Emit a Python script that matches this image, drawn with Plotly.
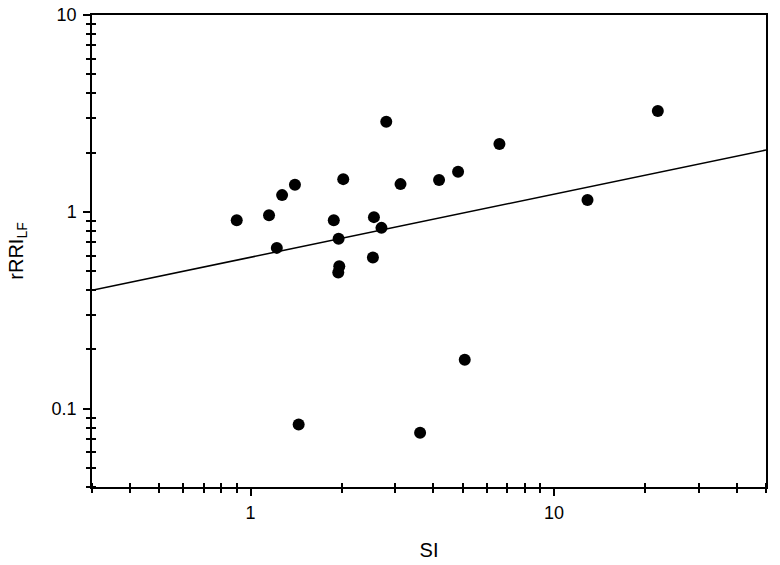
import numpy as np
import plotly.graph_objects as go

# Data
si = [0.90, 1.15, 1.22, 1.27, 1.40, 2.02, 1.88, 1.95, 1.96, 1.945,
      2.55, 2.70, 2.53, 2.80, 3.12, 4.18, 4.83, 6.61, 12.9, 22.0,
      1.44, 3.62, 5.08]
rrri_lf = [0.907, 0.962, 0.656, 1.216, 1.372, 1.466, 0.907, 0.729, 0.529, 0.492,
           0.940, 0.829, 0.586, 2.87, 1.383, 1.45, 1.598, 2.21, 1.147, 3.25,
           0.0832, 0.0755, 0.177]

# Power-law regression line: y = a * x^b
fit_a = 0.588
fit_b = 0.3205
fit_x = [0.3, 50]
fit_y = [fit_a * xv ** fit_b for xv in fit_x]

x_range = [0.3, 50]
y_range = [0.04, 10]
x_major = [1, 10]
x_major_text = ["1", "10"]
y_major = [0.1, 1, 10]
y_major_text = ["0.1", "1", "10"]
x_minor = [0.3, 0.4, 0.5, 0.6, 0.7, 0.8, 0.9, 2, 3, 4, 5, 6, 7, 8, 9, 20, 30, 40, 50]
y_minor = [0.04, 0.05, 0.06, 0.07, 0.08, 0.09, 0.2, 0.3, 0.4, 0.5, 0.6, 0.7, 0.8, 0.9,
           2, 3, 4, 5, 6, 7, 8, 9]

FONT = "Liberation Sans, Arial, sans-serif"

fig = go.Figure()
fig.add_trace(go.Scatter(x=fit_x, y=fit_y, mode="lines",
                         line=dict(color="black", width=1.5), showlegend=False,
                         hoverinfo="skip"))
fig.add_trace(go.Scatter(x=si, y=rrri_lf, mode="markers",
                         marker=dict(color="black", size=12), showlegend=False))
# dummy trace for the overlay axes (inside minor ticks)
fig.add_trace(go.Scatter(x=[x_range[0]], y=[y_range[0]], mode="markers",
                         marker=dict(opacity=0), xaxis="x2", yaxis="y2",
                         showlegend=False, hoverinfo="skip"))

xr = [np.log10(x_range[0]), np.log10(x_range[1])]
yr = [np.log10(y_range[0]), np.log10(y_range[1])]

fig.update_layout(
    width=780, height=565,
    margin=dict(l=92, r=14, t=15, b=78, autoexpand=False),
    paper_bgcolor="white", plot_bgcolor="white",
    font=dict(family=FONT, color="black", size=18),
    xaxis=dict(type="log", range=xr, showgrid=False, zeroline=False, automargin=False,
               showline=True, linecolor="black", linewidth=1.5, mirror=True,
               ticks="outside", ticklen=7, tickwidth=1.5, tickcolor="black",
               tickmode="array", tickvals=x_major, ticktext=x_major_text,
               tickfont=dict(size=18), ticklabelstandoff=2,
               minor=dict(tickmode="array", tickvals=x_minor, ticks="outside",
                          ticklen=4, tickwidth=1.5, tickcolor="black", showgrid=False),
               title=dict(text="SI", font=dict(size=20), standoff=21)),
    yaxis=dict(type="log", range=yr, showgrid=False, zeroline=False, automargin=False,
               showline=True, linecolor="black", linewidth=1.5, mirror=True,
               ticks="outside", ticklen=7, tickwidth=1.5, tickcolor="black",
               tickmode="array", tickvals=y_major, ticktext=y_major_text,
               tickfont=dict(size=18), ticklabelstandoff=3,
               minor=dict(tickmode="array", tickvals=y_minor, ticks="outside",
                          ticklen=4, tickwidth=1.5, tickcolor="black", showgrid=False),
               title=dict(text="rRRI<sub>LF</sub>", font=dict(size=20), standoff=23)),
    xaxis2=dict(type="log", range=xr, overlaying="x", anchor="y2", showgrid=False,
                zeroline=False, showline=False, ticks="", showticklabels=False,
                automargin=False,
                minor=dict(tickmode="array", tickvals=x_minor, ticks="inside",
                           ticklen=4, tickwidth=1.5, tickcolor="black", showgrid=False)),
    yaxis2=dict(type="log", range=yr, overlaying="y", anchor="x2", showgrid=False,
                zeroline=False, showline=False, ticks="", showticklabels=False,
                automargin=False,
                minor=dict(tickmode="array", tickvals=y_minor, ticks="inside",
                           ticklen=4, tickwidth=1.5, tickcolor="black", showgrid=False)),
)

fig.write_html("out.html", config={"displayModeBar": False},
               post_script="document.body.style.margin='0';document.body.style.overflow='hidden';")
